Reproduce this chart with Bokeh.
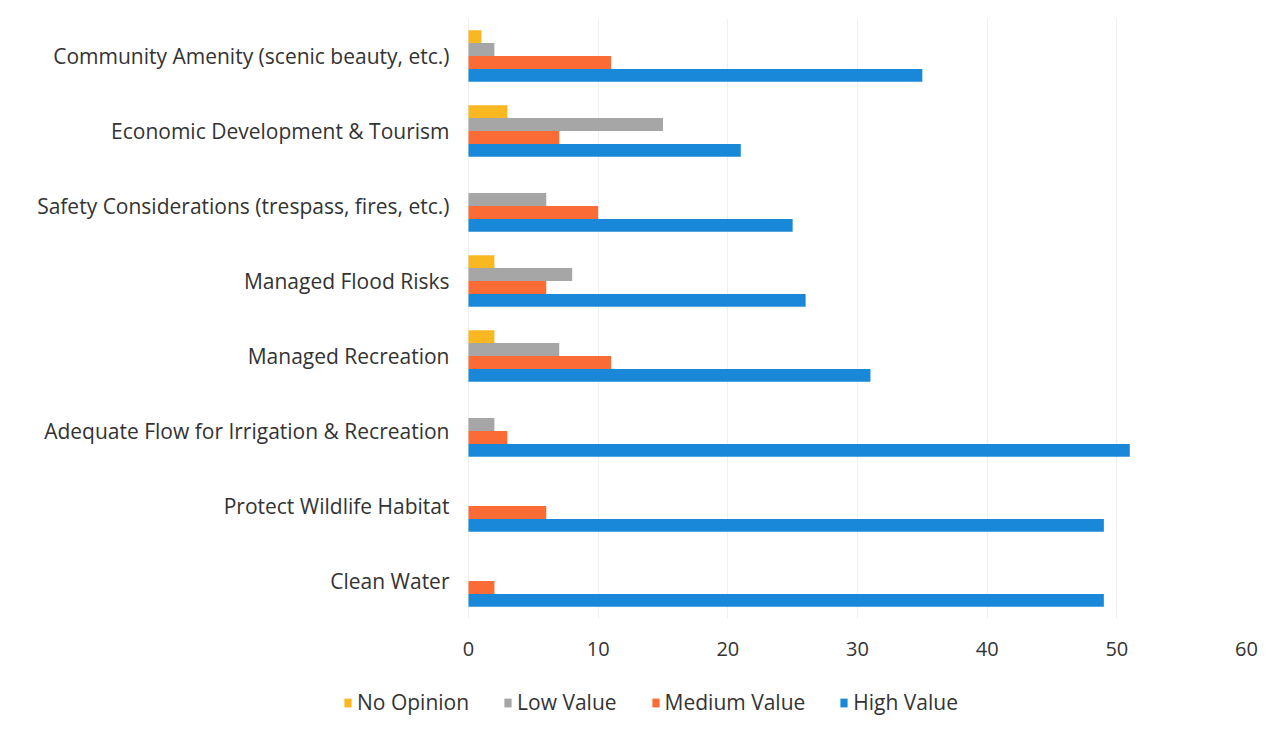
from bokeh.plotting import figure
from bokeh.models import ColumnDataSource, Range1d, FactorRange, Legend, LegendItem, FixedTicker
from bokeh.layouts import column
from bokeh.transform import dodge
from bokeh.embed import file_html
from bokeh.resources import INLINE

# categories listed bottom to top
categories = [
    "Clean Water",
    "Protect Wildlife Habitat",
    "Adequate Flow for Irrigation & Recreation",
    "Managed Recreation",
    "Managed Flood Risks",
    "Safety Considerations (trespass, fires, etc.)",
    "Economic Development & Tourism",
    "Community Amenity (scenic beauty, etc.)",
]
no_opinion   = [0, 0, 0, 2, 2, 0, 3, 1]
low_value    = [0, 0, 2, 7, 8, 6, 15, 2]
medium_value = [2, 6, 3, 11, 6, 10, 7, 11]
high_value   = [49, 49, 51, 31, 26, 25, 21, 35]
x_ticks = [0, 10, 20, 30, 40, 50, 60]
series_names = ["No Opinion", "Low Value", "Medium Value", "High Value"]
series_colors = ["#f9b722", "#a6a6a6", "#fb6b35", "#1a88d9"]

source = ColumnDataSource(dict(cat=categories, no=no_opinion, low=low_value,
                               med=medium_value, high=high_value))

FONT = "Open Sans"
# frame starts at x=330 so the legend strip below (frames aligned) can start there;
# the value axis starts at 0, placed at x=468.
p = figure(frame_width=916, frame_height=600, y_range=FactorRange(*categories),
           x_range=Range1d(-10.64, 60), output_backend="svg", toolbar_location=None,
           min_border_left=330, min_border_right=24, min_border_top=18,
           min_border_bottom=48)
p.outline_line_color = None
p.background_fill_color = "white"

h = 0.172
offsets = [0.258, 0.086, -0.086, -0.258]
fields = ["no", "low", "med", "high"]
for f, off, c in zip(fields, offsets, series_colors):
    p.hbar(y=dodge("cat", off, range=p.y_range), right=f, left=0, height=h,
           source=source, fill_color=c, line_color=None)

p.xaxis.ticker = FixedTicker(ticks=x_ticks)
p.xaxis.axis_line_color = None
p.xaxis.major_tick_line_color = None
p.xaxis.minor_tick_line_color = None
p.xaxis.major_label_text_font = FONT
p.xaxis.major_label_text_font_size = "20px"
p.xaxis.major_label_text_color = "#333333"
p.xaxis.major_label_standoff = 17

p.yaxis.axis_line_color = None
p.yaxis.major_tick_line_color = None
p.yaxis.minor_tick_line_color = None
p.yaxis.major_label_text_font = FONT
p.yaxis.major_label_text_font_size = "21px"
p.yaxis.major_label_text_color = "#333333"
p.yaxis.major_label_standoff = -125

p.xgrid.grid_line_color = "#efefef"
p.ygrid.grid_line_color = None

# legend strip below the chart
lg = figure(width=1270, height=60, x_range=Range1d(0, 1), y_range=Range1d(0, 1),
            output_backend="svg", toolbar_location=None,
            min_border_left=0, min_border_right=0, min_border_top=0, min_border_bottom=0)
lg.axis.visible = False
lg.grid.visible = False
lg.outline_line_color = None
items = []
for n, c in zip(series_names, series_colors):
    r = lg.hbar(y=[-5], right=[0], left=[0], height=0.5, fill_color=c, line_color=None)
    items.append(LegendItem(label=n, renderers=[r]))
legend = Legend(items=items, orientation="horizontal", location=(13, 10),
                glyph_width=9, glyph_height=11, label_text_font=FONT,
                label_text_font_size="21px", label_text_color="#333333",
                spacing=34, label_standoff=5, border_line_color=None,
                background_fill_alpha=0, padding=0, margin=0)
lg.add_layout(legend, "center")

layout = column(p, lg, spacing=0)
open("out.html", "w").write(file_html(layout, INLINE))
